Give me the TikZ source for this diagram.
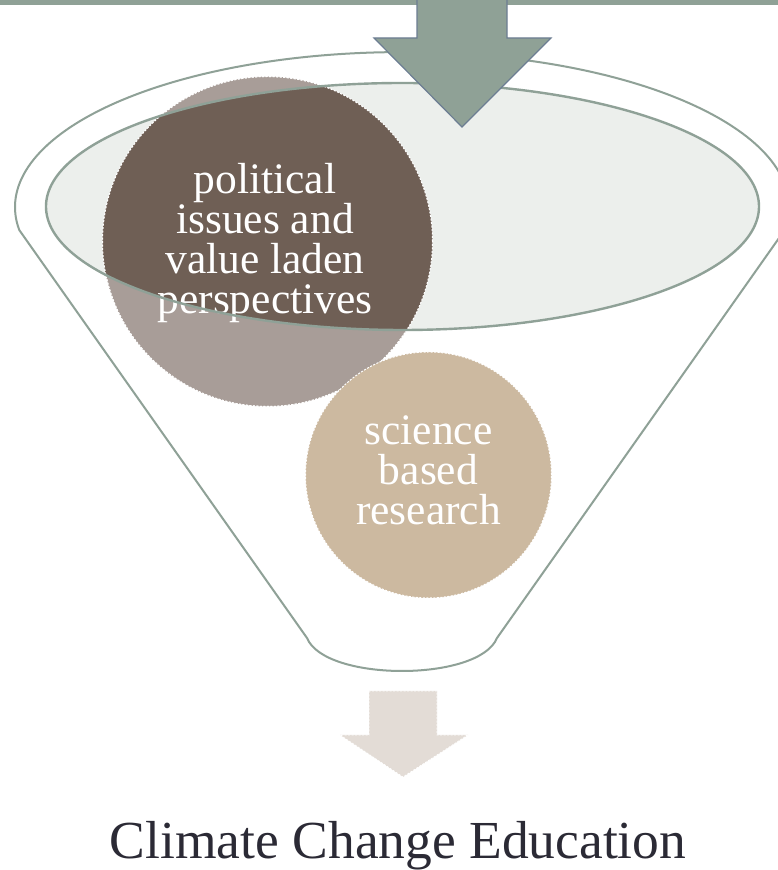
\documentclass[tikz,border=0pt]{standalone}
\usepackage{fontspec}
\setmainfont{Liberation Serif}
\definecolor{funnelline}{HTML}{8FA197}
\definecolor{rimfill}{HTML}{ECEFEC}
\definecolor{politicdark}{HTML}{6F5F55}
\definecolor{politiclight}{HTML}{A89D98}
\definecolor{sciencefill}{HTML}{CCB9A0}
\definecolor{arrowfill}{HTML}{8FA196}
\definecolor{arrowedge}{HTML}{6C7D92}
\definecolor{outarrow}{HTML}{E3DCD6}
\definecolor{captioncol}{HTML}{2B2A35}
\tikzset{
  funnelstroke/.style={draw=funnelline, line width=2pt, line join=round},
  bubble/.style={circle, inner sep=0pt, draw=white, line width=1pt, dash pattern=on 2pt off 1.5pt},
  bubbletext/.style={text=white, align=center, inner sep=0pt, font=\fontsize{43.5}{40}\selectfont},
}
\begin{document}
\begin{tikzpicture}[x=1pt, y=1pt]
  \useasboundingbox (0,0) rectangle (778,870);
  \clip (0,0) rectangle (778,870);
  \fill[white] (0,0) rectangle (778,870);

  % funnel body: wide rim on top, tapering sides, rounded spout
  \draw[funnelstroke, fill=white]
    (784.7,640) arc[start angle=-8.5, end angle=188.5, x radius=387, y radius=155]
    -- (307,232) .. controls (325,188) and (479,188) .. (497,232) -- cycle;

  % inner rim
  \fill[rimfill] (402.5,663.5) ellipse[x radius=356.5, y radius=123.5];

  % bubble: political issues (lighter outside the rim, darker inside)
  \node[bubble, fill=politiclight, minimum size=330pt] (polc) at (267.5,628.5) {};
  \begin{scope}
    \clip (402.5,663.5) ellipse[x radius=356.5, y radius=123.5];
    \fill[politicdark] (polc.center) circle[radius=165];
  \end{scope}
  \draw[white, line width=1pt, dash pattern=on 2pt off 1.5pt] (polc.center) circle[radius=165];

  % bubble: science based research
  \node[bubble, fill=sciencefill, minimum size=246pt] (scic) at (428.5,395) {};

  \node[bubbletext] (poltxt) at (265,627) {political\\issues and\\value laden\\perspectives};
  \node[bubbletext] (scitxt) at (428.5,399.5) {science\\based\\research};

  % rim outline over the contents
  \draw[funnelline, line width=2.4pt] (402.5,663.5) ellipse[x radius=356.5, y radius=123.5];

  % input band and arrow feeding the funnel
  \fill[arrowfill] (0,865) rectangle (778,870);
  \draw[fill=arrowfill, draw=arrowedge, line width=1.2pt, line join=miter]
    (417,871) -- (417,832) -- (374,832) -- (462,743) -- (551,832) -- (507,832) -- (507,871);

  % output arrow below the spout
  \draw[fill=outarrow, draw=white, line width=0.8pt, dash pattern=on 2pt off 1.5pt]
    (369,179) -- (369,135) -- (340,135) -- (403,93) -- (468,135) -- (437,135) -- (437,179) -- cycle;

  \node[text=captioncol, anchor=base, inner sep=0pt, font=\fontsize{53.5}{60}\selectfont] (caption) at (398,11) {Climate Change Education};
\end{tikzpicture}
\end{document}
